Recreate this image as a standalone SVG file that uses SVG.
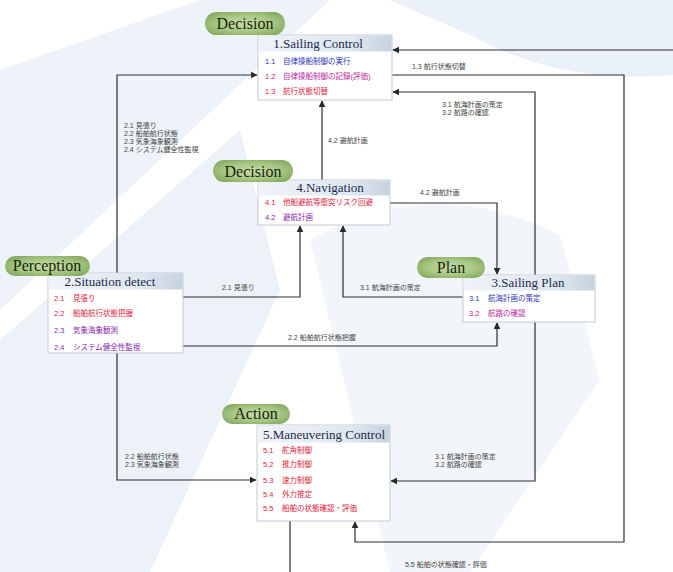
<svg xmlns="http://www.w3.org/2000/svg" width="673" height="572" viewBox="0 0 673 572">
<defs>
<radialGradient id="pill" cx="50%" cy="50%" r="60%">
<stop offset="0" stop-color="#c8dea6"/>
<stop offset="0.6" stop-color="#a6c682"/>
<stop offset="1" stop-color="#86aa62"/>
</radialGradient>
<linearGradient id="hdr" x1="0" y1="0" x2="1" y2="0">
<stop offset="0" stop-color="#eef3f8"/>
<stop offset="0.7" stop-color="#dfe7f0"/>
<stop offset="1" stop-color="#c6d2de"/>
</linearGradient>
<marker id="ah" viewBox="0 0 10 10" refX="9" refY="5" markerWidth="7" markerHeight="7" orient="auto" markerUnits="userSpaceOnUse">
<path d="M0,0 L10,5 L0,10 z" fill="#2a2a2a"/>
</marker>
<style>
.box{fill:#ffffff;stroke:#c4c9d2;stroke-width:1}
.hd{fill:url(#hdr)}
.ht{font-family:"Liberation Serif",serif;font-size:13px;fill:#1e2a4e;text-anchor:middle}
.pl{fill:url(#pill)}
.pt{font-family:"Liberation Serif",serif;font-size:16px;fill:#16240f;text-anchor:middle}
.r{font-family:"Liberation Sans","Noto Sans CJK JP",sans-serif;font-size:7.5px}
.b{fill:#3036c0}
.m{fill:#c0289c}
.d{fill:#e0243c}
.p{fill:#8a2ab0}
.ln{fill:none;stroke:#2e2e2e;stroke-width:1.2}
.lb{font-family:"Liberation Sans","Noto Sans CJK JP",sans-serif;font-size:7px;fill:#444}
</style>
</defs>
<rect width="673" height="572" fill="#ffffff"/>
<g id="background">
<path d="M0,70 L200,0 L330,0 L0,310 Z" fill="#eef3f9"/>
<path d="M0,340 L240,130 L280,290 L150,572 L0,572 Z" fill="#edf2f8"/>
<path d="M390,0 L673,0 L673,75 Q560,85 470,35 Z" fill="#ebf1f8"/>
<path d="M310,240 Q430,170 560,235 L600,380 L470,572 L390,572 Z" fill="#f2f6fa"/>
</g>

<g id="connectors">
<path class="ln" d="M117,273 L117,75 L257,75" marker-end="url(#ah)"/>
<text class="lb" x="124" y="128">2.1 見張り</text>
<text class="lb" x="124" y="136">2.2 船舶航行状態</text>
<text class="lb" x="124" y="144">2.3 気象海象観測</text>
<text class="lb" x="124" y="152">2.4 システム健全性監視</text>

<path class="ln" d="M322,180 L322,101" marker-end="url(#ah)"/>
<text class="lb" x="328" y="143">4.2 避航計画</text>

<path class="ln" d="M390,203 L497,203 L497,274" marker-end="url(#ah)"/>
<text class="lb" x="420" y="195">4.2 避航計画</text>

<path class="ln" d="M183,297 L300,297 L300,226" marker-end="url(#ah)"/>
<text class="lb" x="222" y="290">2.1 見張り</text>

<path class="ln" d="M463,297 L343,297 L343,226" marker-end="url(#ah)"/>
<text class="lb" x="360" y="290">3.1 航海計画の策定</text>

<path class="ln" d="M183,346 L497,346 L497,323" marker-end="url(#ah)"/>
<text class="lb" x="288" y="340">2.2 船舶航行状態把握</text>

<path class="ln" d="M535,275 L535,92 L393,92" marker-end="url(#ah)"/>
<text class="lb" x="442" y="107">3.1 航海計画の策定</text>
<text class="lb" x="442" y="115">3.2 航路の確認</text>

<path class="ln" d="M535,322 L535,481 L391,481" marker-end="url(#ah)"/>
<text class="lb" x="435" y="459">3.1 航海計画の策定</text>
<text class="lb" x="435" y="467">3.2 航路の確認</text>

<path class="ln" d="M117,353 L117,480 L256,480" marker-end="url(#ah)"/>
<text class="lb" x="125" y="459">2.2 船舶航行状態</text>
<text class="lb" x="125" y="467">2.3 気象海象観測</text>

<path class="ln" d="M392,75 L624,75 L624,542 L355,542 L355,522" marker-end="url(#ah)"/>
<text class="lb" x="412" y="69">1.3 航行状態切替</text>

<path class="ln" d="M673,50 L393,50" marker-end="url(#ah)"/>
<path class="ln" d="M290,521 L290,572"/>
<text class="lb" x="405" y="567">5.5 船舶の状態確認・評価</text>
</g>

<g id="node1">
<rect class="box" x="258" y="35" width="134" height="65"/>
<rect class="hd" x="258.5" y="35.5" width="133" height="16"/>
<text class="ht" x="318" y="48">1.Sailing Control</text>
<text class="r b" x="265" y="64">1.1</text><text class="r b" x="283" y="64">自律操船制御の実行</text>
<text class="r m" x="265" y="79">1.2</text><text class="r m" x="283" y="79">自律操船制御の記録(評価)</text>
<text class="r d" x="265" y="94">1.3</text><text class="r d" x="283" y="94">航行状態切替</text>
</g>
<g id="pill-decision1">
<rect class="pl" x="205" y="12" width="80" height="23" rx="11.5"/>
<text class="pt" x="245" y="29">Decision</text>
</g>

<g id="node4">
<rect class="box" x="258" y="180" width="132" height="45"/>
<rect class="hd" x="258.5" y="180.5" width="131" height="15"/>
<text class="ht" x="330" y="192">4.Navigation</text>
<text class="r d" x="265" y="205">4.1</text><text class="r d" x="283" y="205">他船避航等衝突リスク回避</text>
<text class="r p" x="265" y="220">4.2</text><text class="r p" x="283" y="220">避航計画</text>
</g>
<g id="pill-decision2">
<rect class="pl" x="213" y="160" width="80" height="22" rx="11"/>
<text class="pt" x="253" y="177">Decision</text>
</g>

<g id="node2">
<rect class="box" x="48" y="273" width="135" height="80"/>
<rect class="hd" x="48.5" y="273.5" width="134" height="16"/>
<text class="ht" x="110" y="286">2.Situation detect</text>
<text class="r d" x="54" y="301">2.1</text><text class="r d" x="73" y="301">見張り</text>
<text class="r d" x="54" y="316">2.2</text><text class="r d" x="73" y="316">船舶航行状態把握</text>
<text class="r p" x="54" y="333">2.3</text><text class="r p" x="73" y="333">気象海象観測</text>
<text class="r p" x="54" y="350">2.4</text><text class="r p" x="73" y="350">システム健全性監視</text>
</g>
<g id="pill-perception">
<rect class="pl" x="5" y="256" width="85" height="20" rx="10"/>
<text class="pt" x="47" y="271">Perception</text>
</g>

<g id="node3">
<rect class="box" x="463" y="275" width="132" height="47"/>
<rect class="hd" x="463.5" y="275.5" width="131" height="15"/>
<text class="ht" x="528" y="287">3.Sailing Plan</text>
<text class="r b" x="469" y="301">3.1</text><text class="r b" x="488" y="301">航海計画の策定</text>
<text class="r m" x="469" y="316">3.2</text><text class="r m" x="488" y="316">航路の確認</text>
</g>
<g id="pill-plan">
<rect class="pl" x="417" y="257" width="68" height="21" rx="10.5"/>
<text class="pt" x="451" y="273">Plan</text>
</g>

<g id="node5">
<rect class="box" x="257" y="425" width="133" height="96"/>
<rect class="hd" x="257.5" y="425.5" width="132" height="17"/>
<text class="ht" x="324" y="439">5.Maneuvering Control</text>
<text class="r d" x="263" y="453">5.1</text><text class="r d" x="282" y="453">舵角制御</text>
<text class="r d" x="263" y="467">5.2</text><text class="r d" x="282" y="467">推力制御</text>
<text class="r d" x="263" y="483">5.3</text><text class="r d" x="282" y="483">速力制御</text>
<text class="r d" x="263" y="497">5.4</text><text class="r d" x="282" y="497">外力推定</text>
<text class="r d" x="263" y="511">5.5</text><text class="r d" x="282" y="511">船舶の状態確認・評価</text>
</g>
<g id="pill-action">
<rect class="pl" x="222" y="404" width="68" height="20" rx="10"/>
<text class="pt" x="256" y="419">Action</text>
</g>
</svg>
